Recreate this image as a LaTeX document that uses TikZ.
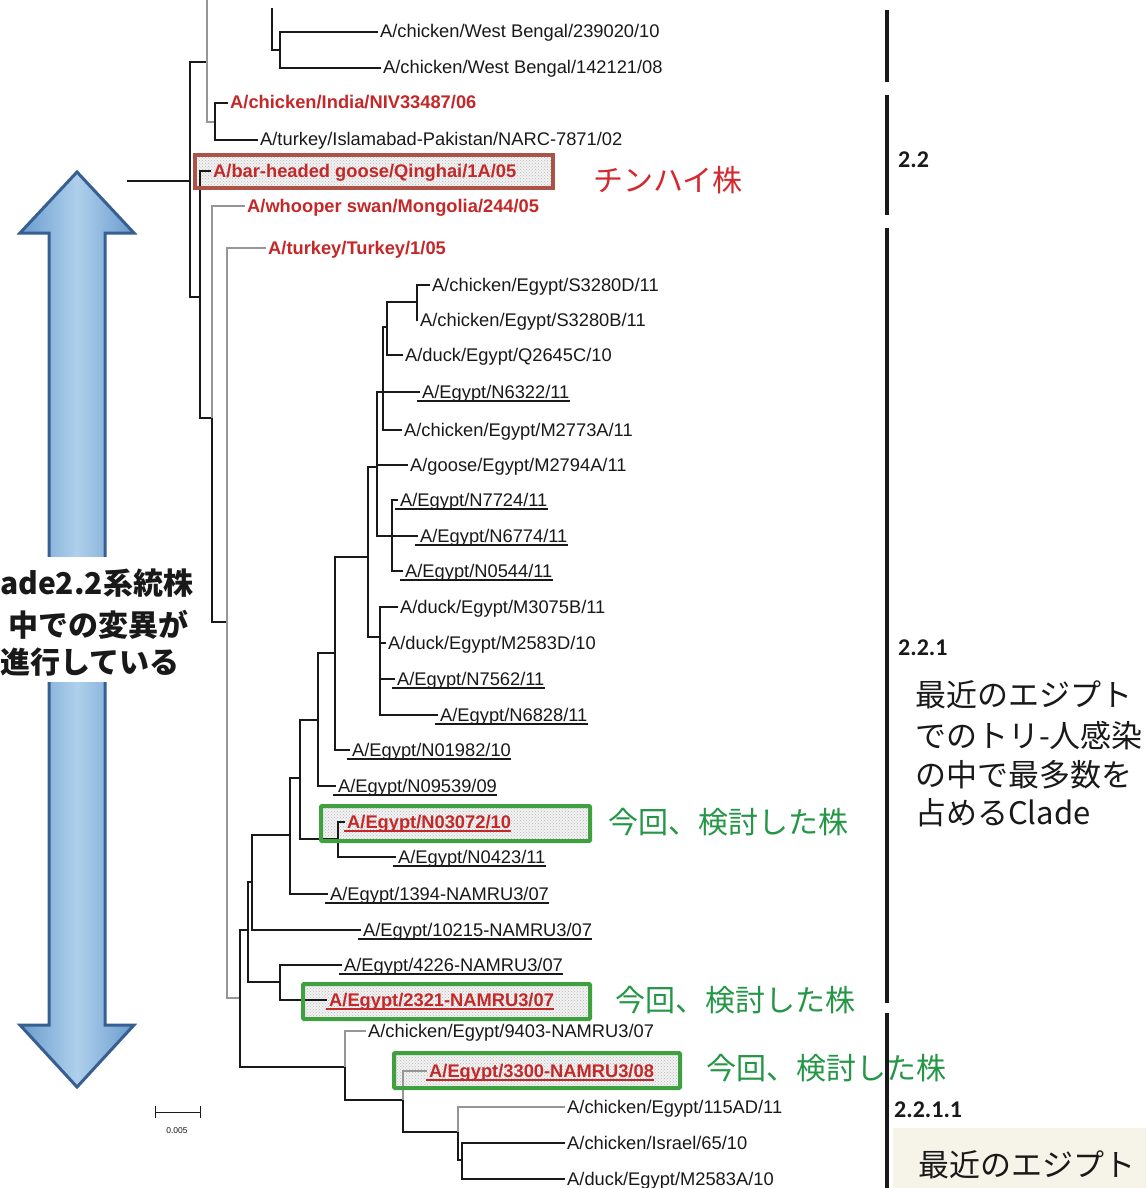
\documentclass[tikz,border=0pt]{standalone}
\usepackage{fontspec}
\setmainfont{Liberation Sans}
\newfontfamily\jpfont{Noto Sans CJK JP}
\newfontfamily\numfont{Carlito}
\usetikzlibrary{patterns}

\definecolor{ink}{RGB}{25,25,25}
\definecolor{labred}{RGB}{196,40,40}
\definecolor{boxred}{RGB}{172,82,70}
\definecolor{boxgreen}{RGB}{62,160,62}
\definecolor{txtgreen}{RGB}{36,150,70}
\definecolor{jpred}{RGB}{212,40,45}
\definecolor{treegray}{RGB}{150,150,150}
\definecolor{arrowline}{RGB}{55,95,145}
\definecolor{arrowedge}{RGB}{105,155,205}
\definecolor{arrowmid}{RGB}{175,208,236}
\definecolor{beige}{RGB}{246,243,232}

\newcommand\leaffont{\fontsize{18.3}{20}\selectfont}

\tikzset{
  br/.style={line width=1.5pt, draw=ink},
  brg/.style={line width=1.3pt, draw=treegray},
  tip/.style={shorten >=2pt},
  leaf/.style={anchor=west, inner sep=0pt, font=\leaffont, text height=12pt, text depth=0pt, text=ink},
  redleaf/.style={leaf, text=labred, font=\leaffont\bfseries},
  ul/.style={line width=1.2pt, draw=ink},
  ulred/.style={line width=1.2pt, draw=labred},
  stipple/.style={pattern=crosshatch dots, pattern color=gray!55},
  jptxt/.style={anchor=west, inner sep=0pt, font=\jpfont\fontsize{30}{34}\selectfont},
  bigjp/.style={anchor=west, inner sep=0pt, font=\jpfont\fontsize{31}{34}\selectfont, text=ink},
  arrowtxt/.style={anchor=base west, inner sep=0pt, font=\jpfont\bfseries\fontsize{30}{34}\selectfont, text=ink},
  cladenum/.style={anchor=west, inner sep=0pt, font=\numfont\bfseries\fontsize{24}{26}\selectfont, text=ink},
  cladebar/.style={line width=4pt, draw=ink},
}

\begin{document}
\begin{tikzpicture}[x=1pt, y=-1pt]
\useasboundingbox (0,0) rectangle (1146,1188);
\fill[white] (0,0) rectangle (1146,1188);

% ---------- big double arrow on the left ----------
\path[left color=arrowedge, right color=arrowedge, middle color=arrowmid,
      draw=arrowline, line width=3pt, line join=miter]
  (77,172) -- (134,233) -- (105,233) -- (105,1025) -- (134,1025) -- (77,1087)
  -- (20,1025) -- (49,1025) -- (49,233) -- (20,233) -- cycle;
\fill[white] (36,557) rectangle (120,682);
\node[arrowtxt] (C1) at (0,594) {ade2.2系統株};
\node[arrowtxt] (C2) at (8,636) {中での変異が};
\node[arrowtxt] (C3) at (0,673) {進行している};

% ---------- highlight boxes (fill) ----------
\coordinate (BRa) at (195,155); \coordinate (BRb) at (553,188);
\coordinate (BG1a) at (321,806); \coordinate (BG1b) at (590,841);
\coordinate (BG2a) at (303,984); \coordinate (BG2b) at (590,1019);
\coordinate (BG3a) at (394,1053); \coordinate (BG3b) at (680,1088);
\foreach \a/\b in {BRa/BRb, BG1a/BG1b, BG2a/BG2b, BG3a/BG3b}{
  \fill[gray!10] (\a) rectangle (\b);
  \fill[stipple] (\a) rectangle (\b);
}

% ---------- leaf labels ----------
\node[leaf] (L1) at (380,32) {A/chicken/West Bengal/239020/10};
\node[leaf] (L2) at (383,68) {A/chicken/West Bengal/142121/08};
\node[redleaf] (L3) at (230,103) {A/chicken/India/NIV33487/06};
\node[leaf] (L4) at (260,140) {A/turkey/Islamabad-Pakistan/NARC-7871/02};
\node[redleaf] (L5) at (213,171) {A/bar-headed goose/Qinghai/1A/05};
\node[redleaf] (L6) at (247,206) {A/whooper swan/Mongolia/244/05};
\node[redleaf] (L7) at (268,248) {A/turkey/Turkey/1/05};
\node[leaf] (L8) at (432,285) {A/chicken/Egypt/S3280D/11};
\node[leaf] (L9) at (420,320) {A/chicken/Egypt/S3280B/11};
\node[leaf] (L10) at (405,355) {A/duck/Egypt/Q2645C/10};
\node[leaf] (L11) at (422,392) {A/Egypt/N6322/11};
\node[leaf] (L12) at (404,430) {A/chicken/Egypt/M2773A/11};
\node[leaf] (L13) at (410,465) {A/goose/Egypt/M2794A/11};
\node[leaf] (L14) at (400,500) {A/Egypt/N7724/11};
\node[leaf] (L15) at (420,536) {A/Egypt/N6774/11};
\node[leaf] (L16) at (405,571) {A/Egypt/N0544/11};
\node[leaf] (L17) at (400,607) {A/duck/Egypt/M3075B/11};
\node[leaf] (L18) at (388,643) {A/duck/Egypt/M2583D/10};
\node[leaf] (L19) at (397,679) {A/Egypt/N7562/11};
\node[leaf] (L20) at (440,715) {A/Egypt/N6828/11};
\node[leaf] (L21) at (352,750) {A/Egypt/N01982/10};
\node[leaf] (L22) at (338,786) {A/Egypt/N09539/09};
\node[redleaf] (L23) at (347,822) {A/Egypt/N03072/10};
\node[leaf] (L24) at (398,857) {A/Egypt/N0423/11};
\node[leaf] (L25) at (330,894) {A/Egypt/1394-NAMRU3/07};
\node[leaf] (L26) at (363,930) {A/Egypt/10215-NAMRU3/07};
\node[leaf] (L27) at (344,965) {A/Egypt/4226-NAMRU3/07};
\node[redleaf] (L28) at (329,1000) {A/Egypt/2321-NAMRU3/07};
\node[leaf] (L29) at (368,1031) {A/chicken/Egypt/9403-NAMRU3/07};
\node[redleaf] (L30) at (429,1071) {A/Egypt/3300-NAMRU3/08};
\node[leaf] (L31) at (567,1107) {A/chicken/Egypt/115AD/11};
\node[leaf] (L32) at (567,1143) {A/chicken/Israel/65/10};
\node[leaf] (L33) at (567,1179) {A/duck/Egypt/M2583A/10};

% underlined isolates
\foreach \n in {L11,L14,L15,L16,L19,L20,L21,L22,L24,L25,L26,L27}{
  \draw[ul] ([xshift=-5pt,yshift=-3pt]\n.base west) -- ([yshift=-3pt]\n.base east);
}
\foreach \n in {L23,L28,L30}{
  \draw[ulred] ([xshift=-3pt,yshift=-3pt]\n.base west) -- ([yshift=-3pt]\n.base east);
}

% ---------- internal nodes of the tree ----------
\coordinate (R0) at (127,181);
\coordinate (RT) at (190,181);
\coordinate (NA) at (207,62);
\coordinate (NAtop) at (207,0);
\coordinate (WBup) at (272,8);
\coordinate (WB) at (280,50);
\coordinate (IND) at (215,122);
\coordinate (E19) at (200,297);
\coordinate (E18) at (212,418);
\coordinate (E17) at (227,622);
\coordinate (E16) at (240,998);
\coordinate (E14) at (248,930);
\coordinate (E13) at (252,882);
\coordinate (E12) at (290,835);
\coordinate (E10) at (300,778);
\coordinate (E11) at (338,839);
\coordinate (E9) at (318,720);
\coordinate (E8) at (335,653);
\coordinate (E6) at (368,557);
\coordinate (E7) at (380,637);
\coordinate (E4) at (377,467);
\coordinate (E3) at (383,392);
\coordinate (E2) at (387,327);
\coordinate (E1) at (417,302);
\coordinate (E5) at (392,536);
\coordinate (E15) at (280,982);
\coordinate (N2211) at (345,1067);
\coordinate (NB) at (403,1100);
\coordinate (NC) at (458,1132);
\coordinate (ND) at (462,1160);

% ---------- branches ----------
\draw[br] (R0) -- (RT);
\draw[br] (RT) |- (NA);
\draw[br] (RT) |- (E19);
\draw[brg] (NA) -- (NAtop);
\draw[brg] (NA) |- (IND);
\draw[br] (WBup) |- (WB);
\draw[br,tip] (WB) |- (L1.west);
\draw[br,tip] (WB) |- (L2.west);
\draw[br,tip] (IND) |- (L3.west);
\draw[br,tip] (IND) |- (L4.west);

\draw[br,tip] (E19) |- (L5.west);
\draw[br] (E19) |- (E18);
\draw[brg,tip] (E18) |- (L6.west);
\draw[br] (E18) |- (E17);
\draw[brg,tip] (E17) |- (L7.west);
\draw[brg] (E17) |- (E16);

\draw[br] (E16) |- (E14);
\draw[br] (E16) |- (N2211);
\draw[br] (E14) |- (E13);
\draw[br] (E14) |- (E15);
\draw[br,tip] (E15) |- (L27.west);
\draw[br,tip] (E15) |- (L28.west);
\draw[br] (E13) |- (E12);
\draw[br,tip] (E13) |- (L26.west);
\draw[br] (E12) |- (E10);
\draw[br,tip] (E12) |- (L25.west);
\draw[br] (E10) |- (E9);
\draw[br] (E10) |- (E11);
\draw[br,tip] (E11) |- (L23.west);
\draw[br,tip] (E11) |- (L24.west);
\draw[br] (E9) |- (E8);
\draw[br,tip] (E9) |- (L22.west);
\draw[br] (E8) |- (E6);
\draw[br,tip] (E8) |- (L21.west);
\draw[br] (E6) |- (E4);
\draw[br] (E6) |- (E7);
\draw[br,tip] (E7) |- (L17.west);
\draw[br,tip] (E7) |- (L18.west);
\draw[br,tip] (E7) |- (L19.west);
\draw[br,tip] (E7) |- (L20.west);
\draw[br] (E4) |- (E3);
\draw[br,tip] (E4) |- (L13.west);
\draw[br] (E4) |- (E5);
\draw[br] (E3) |- (E2);
\draw[br,tip] (E3) |- (L11.west);
\draw[br,tip] (E3) |- (L12.west);
\draw[br] (E2) |- (E1);
\draw[br,tip] (E2) |- (L10.west);
\draw[br,tip] (E1) |- (L8.west);
\draw[br,tip] (E1) |- (L9.west);
\draw[br,tip] (E5) |- (L14.west);
\draw[br,tip] (E5) |- (L15.west);
\draw[br,tip] (E5) |- (L16.west);

\draw[brg,tip] (N2211) |- (L29.west);
\draw[br] (N2211) |- (NB);
\draw[brg,tip] (NB) |- (L30.west);
\draw[br] (NB) |- (NC);
\draw[brg,tip] (NC) |- (L31.west);
\draw[br] (NC) |- (ND);
\draw[br,tip] (ND) |- (L32.west);
\draw[br,tip] (ND) |- (L33.west);

% ---------- highlight boxes (frames) ----------
\draw[boxred, line width=4pt] (BRa) rectangle (BRb);
\foreach \a/\b in {BG1a/BG1b, BG2a/BG2b, BG3a/BG3b}{
  \draw[boxgreen, line width=4pt, rounded corners=1pt] (\a) rectangle (\b);
}

% ---------- scale bar ----------
\coordinate (S1) at (155,1112);
\coordinate (S2) at (200,1112);
\draw[line width=1pt, draw=ink] (S1) -- (S2);
\draw[line width=1pt, draw=ink] ([yshift=-6pt]S1) -- ([yshift=6pt]S1);
\draw[line width=1pt, draw=ink] ([yshift=-6pt]S2) -- ([yshift=6pt]S2);
\node[inner sep=0pt, font=\fontsize{8.5}{9}\selectfont, text=ink] (SL) at (177,1131) {0.005};

% ---------- callouts ----------
\node[jptxt, text=jpred] (QH) at (593,180) {チンハイ株};
\node[jptxt, text=txtgreen] (G1) at (608,822) {今回、検討した株};
\node[jptxt, text=txtgreen] (G2) at (615,1000) {今回、検討した株};

% ---------- clade bars and clade names ----------
\coordinate (K1a) at (887,10);   \coordinate (K1b) at (887,82);
\coordinate (K2a) at (887,95);   \coordinate (K2b) at (887,215);
\coordinate (K3a) at (887,228);  \coordinate (K3b) at (887,1003);
\coordinate (K4a) at (887,1013); \coordinate (K4b) at (887,1188);
\fill[beige] (893,1128) rectangle (1146,1188);
\draw[cladebar] (K1a) -- (K1b);
\draw[cladebar] (K2a) -- (K2b);
\draw[cladebar] (K3a) -- (K3b);
\draw[cladebar] (K4a) -- (K4b);

\node[jptxt, text=txtgreen] (G3) at (706,1068) {今回、検討した株};

\node[cladenum] (N22) at (898,160) {2.2};
\node[cladenum] (N221) at (898,648) {2.2.1};
\node[cladenum] (N2211t) at (894,1110) {2.2.1.1};

\node[bigjp] (T1) at (915,695) {最近のエジプト};
\node[bigjp] (T2) at (915,736) {でのトリ-人感染};
\node[bigjp] (T3) at (915,775) {の中で最多数を};
\node[bigjp] (T4) at (915,813) {占めるClade};
\node[bigjp] (T5) at (918,1165) {最近のエジプト};
\end{tikzpicture}
\end{document}
